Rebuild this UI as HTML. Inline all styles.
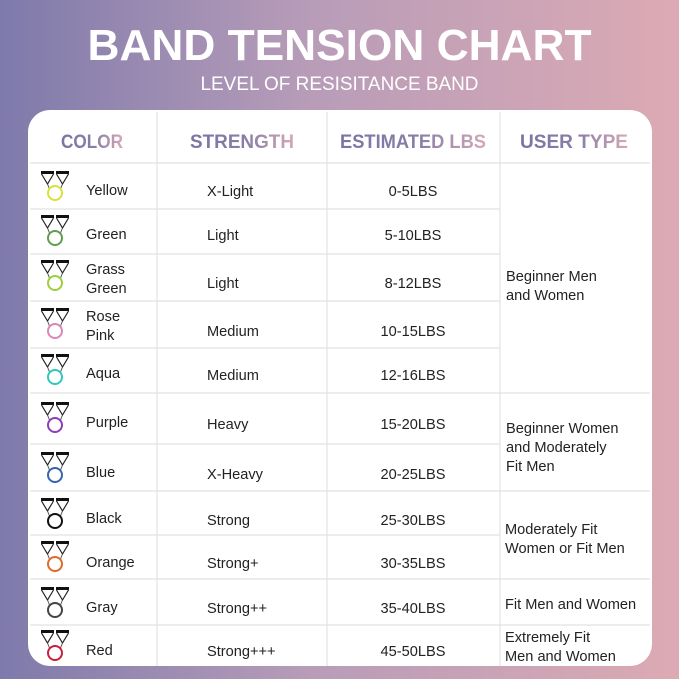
<!DOCTYPE html>
<html><head><meta charset="utf-8"><style>
html,body{margin:0;padding:0;width:679px;height:679px;overflow:hidden}
svg{display:block}
text{font-family:"Liberation Sans","DejaVu Sans",sans-serif}
</style></head><body>
<svg width="679" height="679" viewBox="0 0 679 679" xmlns="http://www.w3.org/2000/svg">
<defs>
<linearGradient id="bg" x1="0" y1="0" x2="1" y2="0">
<stop offset="0" stop-color="#7e7aab"/><stop offset="0.45" stop-color="#b79cb8"/><stop offset="1" stop-color="#dcaab4"/>
</linearGradient>
<linearGradient id="hg" x1="0" y1="0" x2="1" y2="0">
<stop offset="0" stop-color="#7a74a4"/><stop offset="0.55" stop-color="#8a7ea8"/><stop offset="1" stop-color="#d5a9b6"/>
</linearGradient>
<g id="ic">
<rect x="0" y="0" width="13" height="3" fill="#111"/>
<rect x="15" y="0" width="13" height="3" fill="#111"/>
<path d="M0.5 3 L6.5 13 L12.5 3 M15.5 3 L21.5 13 L27.5 3" stroke="#222" stroke-width="1.2" fill="none"/>
<path d="M6.5 13 L8.5 18 M21.5 13 L19.5 18" stroke="#555" stroke-width="1" fill="none"/>
</g>
</defs>
<rect width="679" height="679" fill="url(#bg)"/>
<text x="339.5" y="60" text-anchor="middle" font-size="44" font-weight="bold" fill="#fff" textLength="504" lengthAdjust="spacingAndGlyphs">BAND TENSION CHART</text>
<text x="339.5" y="90" text-anchor="middle" font-size="19" fill="#fff" textLength="278" lengthAdjust="spacingAndGlyphs">LEVEL OF RESISITANCE BAND</text>
<rect x="28" y="110" width="624" height="556" rx="22" fill="#fff"/>
<g fill="url(#hg)" font-weight="bold" font-size="19" text-anchor="middle">
<text x="92" y="148" textLength="62" lengthAdjust="spacingAndGlyphs">COLOR</text>
<text x="242" y="148" textLength="104" lengthAdjust="spacingAndGlyphs">STRENGTH</text>
<text x="413" y="148" textLength="146" lengthAdjust="spacingAndGlyphs">ESTIMATED LBS</text>
<text x="574" y="148" textLength="108" lengthAdjust="spacingAndGlyphs">USER TYPE</text>
</g>
<g stroke="#e2e2e2" stroke-width="1.2">
<line x1="157" y1="112" x2="157" y2="666"/><line x1="327" y1="112" x2="327" y2="666"/><line x1="500" y1="112" x2="500" y2="666"/>
<line x1="30" y1="163" x2="650" y2="163"/>
<line x1="30" y1="209" x2="500" y2="209"/><line x1="30" y1="254" x2="500" y2="254"/><line x1="30" y1="301" x2="500" y2="301"/><line x1="30" y1="348" x2="500" y2="348"/>
<line x1="30" y1="393" x2="650" y2="393"/><line x1="30" y1="444" x2="500" y2="444"/>
<line x1="30" y1="491" x2="650" y2="491"/><line x1="30" y1="535" x2="500" y2="535"/>
<line x1="30" y1="579" x2="650" y2="579"/><line x1="30" y1="625" x2="650" y2="625"/>
</g>
<g font-size="14.6" fill="#222">
<text x="86" y="195">Yellow</text><text x="207" y="196">X-Light</text><text x="413" y="196" text-anchor="middle">0-5LBS</text>
<text x="86" y="239">Green</text><text x="207" y="240">Light</text><text x="413" y="240" text-anchor="middle">5-10LBS</text>
<text x="86" y="274">Grass</text><text x="86" y="293">Green</text><text x="207" y="288">Light</text><text x="413" y="288" text-anchor="middle">8-12LBS</text>
<text x="86" y="321">Rose</text><text x="86" y="340">Pink</text><text x="207" y="336">Medium</text><text x="413" y="336" text-anchor="middle">10-15LBS</text>
<text x="86" y="378">Aqua</text><text x="207" y="380">Medium</text><text x="413" y="380" text-anchor="middle">12-16LBS</text>
<text x="86" y="427">Purple</text><text x="207" y="429">Heavy</text><text x="413" y="429" text-anchor="middle">15-20LBS</text>
<text x="86" y="477">Blue</text><text x="207" y="479">X-Heavy</text><text x="413" y="479" text-anchor="middle">20-25LBS</text>
<text x="86" y="523">Black</text><text x="207" y="525">Strong</text><text x="413" y="525" text-anchor="middle">25-30LBS</text>
<text x="86" y="567">Orange</text><text x="207" y="568">Strong+</text><text x="413" y="568" text-anchor="middle">30-35LBS</text>
<text x="86" y="612">Gray</text><text x="207" y="613">Strong++</text><text x="413" y="613" text-anchor="middle">35-40LBS</text>
<text x="86" y="655">Red</text><text x="207" y="656">Strong+++</text><text x="413" y="656" text-anchor="middle">45-50LBS</text>
<text x="506" y="281">Beginner Men</text><text x="506" y="300">and Women</text>
<text x="506" y="433">Beginner Women</text><text x="506" y="452">and Moderately</text><text x="506" y="471">Fit Men</text>
<text x="505" y="534">Moderately Fit</text><text x="505" y="553">Women or Fit Men</text>
<text x="505" y="609">Fit Men and Women</text>
<text x="505" y="642">Extremely Fit</text><text x="505" y="661">Men and Women</text>
</g>
<g fill="none" stroke-width="2">
<use href="#ic" x="41" y="171"/><circle cx="55" cy="193" r="7" stroke="#d6e23a"/>
<use href="#ic" x="41" y="215"/><circle cx="55" cy="238" r="7" stroke="#5f9e4e"/>
<use href="#ic" x="41" y="260"/><circle cx="55" cy="283" r="7" stroke="#9ccf3a"/>
<use href="#ic" x="41" y="308"/><circle cx="55" cy="331" r="7" stroke="#d987b7"/>
<use href="#ic" x="41" y="354"/><circle cx="55" cy="377" r="7" stroke="#2ec8bd"/>
<use href="#ic" x="41" y="402"/><circle cx="55" cy="425" r="7" stroke="#8a3fb8"/>
<use href="#ic" x="41" y="452"/><circle cx="55" cy="475" r="7" stroke="#3466ad"/>
<use href="#ic" x="41" y="498"/><circle cx="55" cy="521" r="7" stroke="#111"/>
<use href="#ic" x="41" y="541"/><circle cx="55" cy="564" r="7" stroke="#e06a2a"/>
<use href="#ic" x="41" y="587"/><circle cx="55" cy="610" r="7" stroke="#444"/>
<use href="#ic" x="41" y="630"/><circle cx="55" cy="653" r="7" stroke="#c8203a"/>
</g>
</svg>
</body></html>
